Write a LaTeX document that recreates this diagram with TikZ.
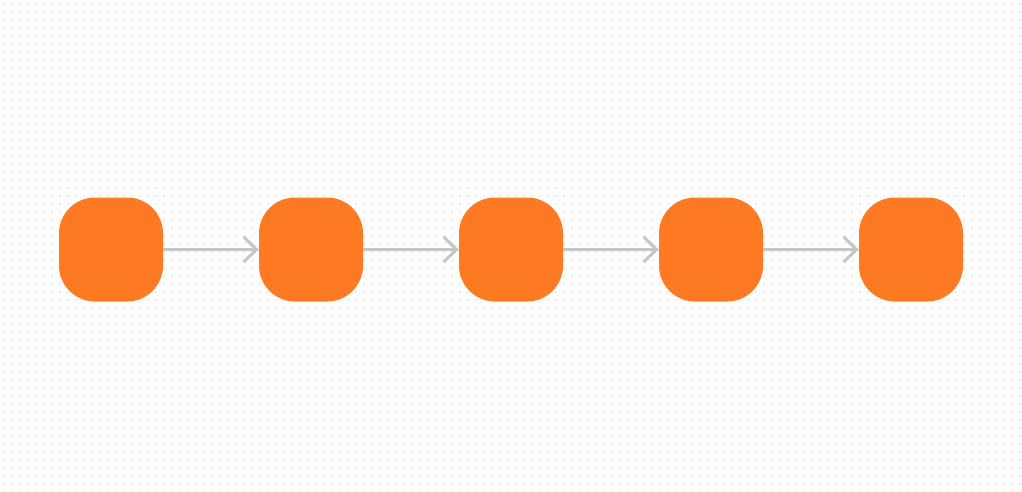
\documentclass[tikz,border=0pt]{standalone}
\usetikzlibrary{arrows.meta}
\definecolor{bgcol}{HTML}{FDFDFD}
\definecolor{dotcol}{HTML}{EBEBEB}
\definecolor{nodeorange}{HTML}{FE7A22}
\definecolor{arrowgray}{HTML}{C6C6C6}
\tikzset{
  stepnode/.style={fill=nodeorange, draw=none, rounded corners=36pt, minimum width=104pt, minimum height=104pt, inner sep=0pt},
  link/.style={draw=arrowgray, line width=3pt, -{Straight Barb[length=13pt, width=25pt, line width=3pt]}},
}
\begin{document}
\begin{tikzpicture}[x=1pt,y=-1pt]
\fill[bgcol] (0,0) rectangle (1022,492);
\useasboundingbox (0,0) rectangle (1022,492);
\foreach \yy in {4,12,...,492}{
  \draw[dotcol, line width=1.6pt, dash pattern=on 1.6pt off 6.4pt] (3.2,\yy) -- (1022,\yy);
}
\node[stepnode] (n1) at (111,249.5) {};
\node[stepnode] (n2) at (311,249.5) {};
\node[stepnode] (n3) at (511,249.5) {};
\node[stepnode] (n4) at (711,249.5) {};
\node[stepnode] (n5) at (911,249.5) {};
\draw[link] (n1) -- (n2);
\draw[link] (n2) -- (n3);
\draw[link] (n3) -- (n4);
\draw[link] (n4) -- (n5);
\end{tikzpicture}
\end{document}
